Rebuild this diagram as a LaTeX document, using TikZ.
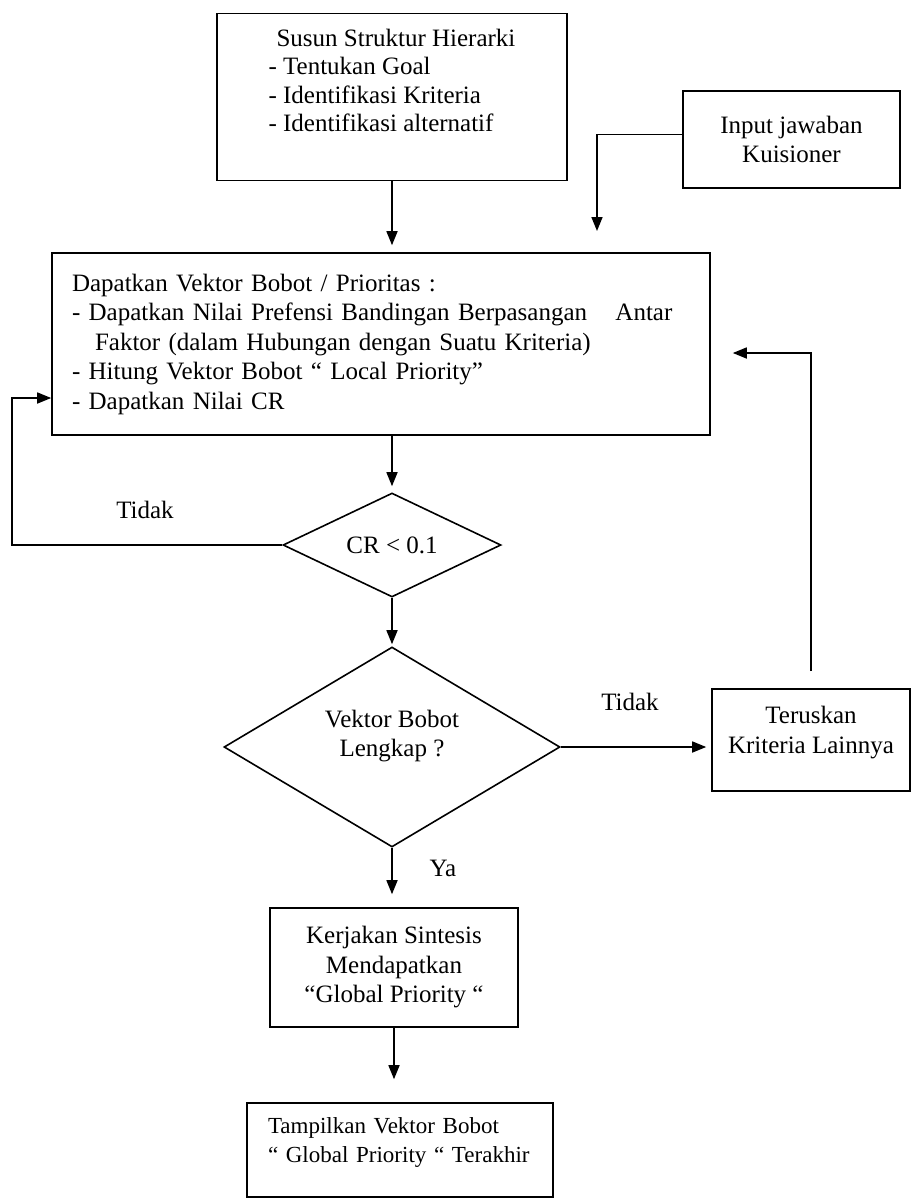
\documentclass[tikz,border=0pt]{standalone}
\usepackage{fontspec}
\setmainfont{Liberation Serif}
\usepackage{tikz}
\usetikzlibrary{arrows.meta, shapes.geometric}

\begin{document}
\begin{tikzpicture}[x=1pt, y=-1pt,
      font=\fontsize{25}{29.5}\selectfont,
      box/.style={draw, line width=1.6pt, rectangle, inner sep=0pt},
      dec/.style={draw, line width=1.6pt, diamond, inner sep=0pt},
      lbl/.style={inner sep=0pt},
      arrow/.style={-{Triangle[length=14pt, width=11pt]}, line width=1.6pt}
    ]
      \useasboundingbox (0,0) rectangle (912,1200);
      \node[box, minimum width=350pt, minimum height=167pt, align=left, font=\fontsize{25}{28.5}\selectfont] (hier) at (392,97)
        {\hspace*{8pt}Susun Struktur Hierarki\\- Tentukan Goal\\- Identifikasi Kriteria\\- Identifikasi alternatif\\[5pt]\mbox{}};
      \node[box, minimum width=217pt, minimum height=97pt, align=center] (input) at (791.5,139.5) {Input jawaban\\Kuisioner};
      \coordinate (masuk) at (597,231);
      \node[box, minimum width=658pt, minimum height=182pt, text width=618pt, inner xsep=20pt, align=left] (bobot) at (381,344)
        {Dapatkan Vektor Bobot / Prioritas :\\
         - Dapatkan Nilai Prefensi Bandingan Berpasangan\hspace{20pt} Antar\\
         \hspace*{23pt}Faktor (dalam Hubungan dengan Suatu Kriteria)\\
         - Hitung Vektor Bobot “ Local Priority”\\
         - Dapatkan Nilai CR};
      \node[dec, aspect=2.1, minimum width=218pt, minimum height=104pt] (cr) at (392,545) {CR < 0.1};
      \node[dec, aspect=1.68, minimum width=336pt, minimum height=200pt, align=center] (lengkap) at (392,747)
        {Vektor Bobot\\Lengkap ?\\[-2pt]\mbox{}};
      \node[box, minimum width=198pt, minimum height=102pt, align=center] (terus) at (811,740)
        {Teruskan\\Kriteria Lainnya\\[-9pt]\mbox{}};
      \node[box, minimum width=248pt, minimum height=119pt, align=center] (sintesis) at (394,967.5)
        {Kerjakan Sintesis\\Mendapatkan\\“Global Priority “};
      \node[box, minimum width=306pt, minimum height=94pt, text width=264pt, inner xsep=21pt, align=left, font=\fontsize{23}{29}\selectfont] (tampil) at (400,1150)
        {Tampilkan Vektor Bobot\\\mbox{“ Global Priority “ Terakhir}\\[-9pt]\mbox{}};
      \node[lbl] (tidakkiri) at (145,510) {Tidak};
      \node[lbl] (tidakkanan) at (630,702) {Tidak};
      \node[lbl] (ya) at (443,868) {Ya};
      \draw[arrow, shorten >=7pt] (hier.south) -- (hier.south |- bobot.north);
      \draw[arrow] ([yshift=5pt]input.west) -| (masuk);
      \draw[arrow, shorten >=6pt] (cr.north |- bobot.south) -- (cr.north);
      \draw[arrow, shorten >=2pt] (cr.south) -- (lengkap.north);
      \draw[arrow] (cr.west) -- ++(-270,0) |- ([yshift=-54pt]bobot.west);
      \draw[arrow, shorten <=17pt] (terus.north) |- ([xshift=22pt, yshift=-9pt]bobot.east);
      \draw[arrow, shorten >=5pt] (lengkap.east) -- (terus.west |- lengkap.east);
      \draw[arrow, shorten >=13pt] (lengkap.south) -- (lengkap.south |- sintesis.north);
      \draw[arrow, shorten >=23pt] (sintesis.south) -- (sintesis.south |- tampil.north);
    \end{tikzpicture}
\end{document}
